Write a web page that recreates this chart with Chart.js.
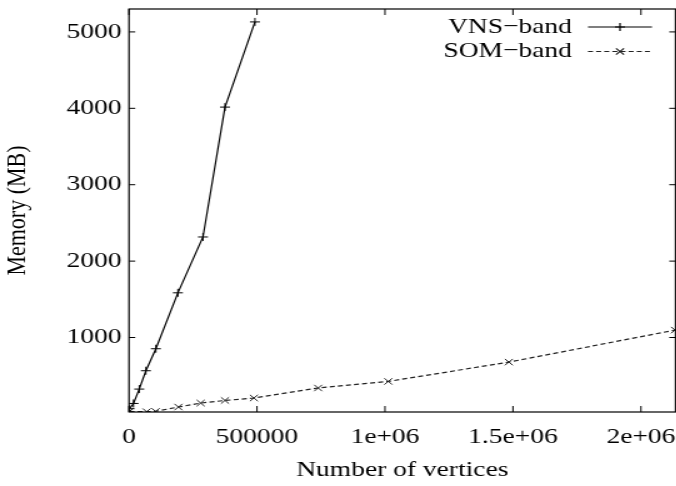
<!DOCTYPE html>
<html lang="en">
<head>
<meta charset="UTF-8">
<title>Memory vs number of vertices</title>
<script src="https://cdn.jsdelivr.net/npm/chart.js@4.4.0/dist/chart.umd.min.js"></script>
<style>
  html, body { margin: 0; padding: 0; background: #fff; overflow: hidden; }
  #wrap { width: 676px; height: 486px; overflow: hidden; }
  /* the original plot is stretched sideways, text included */
  #myChart { transform: scaleX(1.25); transform-origin: 0 0; }
</style>
</head>
<body>
<div id="wrap"><canvas id="myChart" width="541" height="486"></canvas></div>
<script>
    var series_names = ['VNS\u2212band', 'SOM\u2212band'];

    var vns_vertices = [2000, 17500, 40000, 66000, 105000, 191000, 289000, 375000, 492000];
    var vns_memory   = [68, 137, 325, 565, 853, 1585, 2316, 4016, 5131];

    var som_vertices = [2000, 69000, 104000, 193000, 280000, 375000, 488000, 739000, 1013000, 1484000, 2133000];
    var som_memory   = [33, 29, 33, 90, 142, 176, 208, 339, 425, 678, 1097];

    var x_ticks = [0, 500000, 1000000, 1500000, 2000000];
    var x_tick_labels = ['0', '500000', '1e+06', '1.5e+06', '2e+06'];
    var y_ticks = [1000, 2000, 3000, 4000, 5000];
    var y_tick_labels = ['1000', '2000', '3000', '4000', '5000'];

    Chart.defaults.font.family = 'Liberation Serif';
    Chart.defaults.font.size = 22;
    Chart.defaults.color = '#000';

    function to_points(xs, ys) {
        var pts = [];
        for (var i = 0; i < xs.length; i++) {
            pts.push({x: xs[i], y: ys[i]});
        }
        return pts;
    }

    // keep tick labels from pushing the plot box inwards
    function no_label_padding(s) {
        s.paddingLeft = 0;
        s.paddingRight = 0;
        s.paddingTop = 0;
        s.paddingBottom = 0;
    }

    // gnuplot style box: frame, inward ticks, key in the top right corner
    var frame_plugin = {
        id: 'frame',
        afterDatasetsDraw: function(chart) {
            var ctx = chart.ctx;
            var a = chart.chartArea;
            var xs = chart.scales.x, ys = chart.scales.y;
            ctx.save();
            ctx.strokeStyle = '#000';
            ctx.lineWidth = 1;
            ctx.beginPath();
            xs.ticks.forEach(function(t) {
                var px = xs.getPixelForValue(t.value);
                ctx.moveTo(px, a.bottom); ctx.lineTo(px, a.bottom - 6);
                ctx.moveTo(px, a.top); ctx.lineTo(px, a.top + 6);
            });
            ys.ticks.forEach(function(t) {
                var py = ys.getPixelForValue(t.value);
                ctx.moveTo(a.left, py); ctx.lineTo(a.left + 5, py);
                ctx.moveTo(a.right, py); ctx.lineTo(a.right - 5, py);
            });
            ctx.stroke();
            ctx.lineWidth = 1.2;
            ctx.strokeRect(a.left, a.top, a.right - a.left, a.bottom - a.top);

            // key
            chart.data.datasets.forEach(function(ds, i) {
                var y = 27 + i * 24.5;
                ctx.fillStyle = '#000';
                ctx.font = '22px "Liberation Serif"';
                ctx.textAlign = 'right';
                ctx.textBaseline = 'middle';
                ctx.fillText(ds.label, 457.6, y);
                ctx.strokeStyle = ds.borderColor;
                ctx.lineWidth = ds.borderWidth;
                ctx.setLineDash(ds.borderDash || []);
                ctx.beginPath();
                ctx.moveTo(470.4, y);
                ctx.lineTo(521.6, y);
                ctx.stroke();
                ctx.setLineDash([]);
                Chart.helpers.drawPoint(ctx, {pointStyle: ds.pointStyle, rotation: 0, radius: ds.pointRadius, borderWidth: 1}, 496, y);
            });
            ctx.restore();
        }
    };

    var ctx = document.getElementById('myChart');
    var chart = new Chart(ctx, {
        type: 'scatter',
        data: {
            datasets: [
                {
                    label: series_names[0],
                    data: to_points(vns_vertices, vns_memory),
                    showLine: true,
                    borderColor: '#000',
                    backgroundColor: '#000',
                    borderWidth: 1.2,
                    pointStyle: 'cross',
                    pointRadius: 4,
                    pointBorderWidth: 1,
                    pointHoverRadius: 4
                },
                {
                    label: series_names[1],
                    data: to_points(som_vertices, som_memory),
                    showLine: true,
                    borderColor: '#222',
                    backgroundColor: '#222',
                    borderWidth: 1.2,
                    borderDash: [4, 2.5],
                    pointStyle: 'crossRot',
                    pointRadius: 4.5,
                    pointBorderWidth: 1,
                    pointHoverRadius: 4.5
                }
            ]
        },
        options: {
            responsive: false,
            animation: false,
            events: [],
            layout: {autoPadding: false, padding: {top: 9, right: 0.6, left: 0, bottom: 0}},
            plugins: {
                legend: {display: false},
                tooltip: {enabled: false}
            },
            scales: {
                x: {
                    type: 'linear',
                    min: 0,
                    max: 2135000,
                    grid: {display: false, drawTicks: false},
                    border: {display: false},
                    afterBuildTicks: function(s) { s.ticks = x_ticks.map(function(v) { return {value: v}; }); },
                    afterFit: function(s) { s.height = 74; no_label_padding(s); },
                    ticks: {
                        padding: 12,
                        maxRotation: 0,
                        autoSkip: false,
                        callback: function(value, index) { return x_tick_labels[index]; }
                    },
                    title: {display: true, text: 'Number of vertices', padding: {top: 0, bottom: 3}}
                },
                y: {
                    type: 'linear',
                    min: 25,
                    max: 5300,
                    grid: {display: false, drawTicks: false},
                    border: {display: false},
                    afterBuildTicks: function(s) { s.ticks = y_ticks.map(function(v) { return {value: v}; }); },
                    afterFit: function(s) { s.width = 103.2; no_label_padding(s); },
                    ticks: {
                        padding: 6,
                        autoSkip: false,
                        callback: function(value, index) { return y_tick_labels[index]; }
                    },
                    title: {display: true, text: 'Memory (MB)', padding: {top: 1, bottom: 0}}
                }
            }
        },
        plugins: [frame_plugin]
    });
</script>
</body>
</html>
